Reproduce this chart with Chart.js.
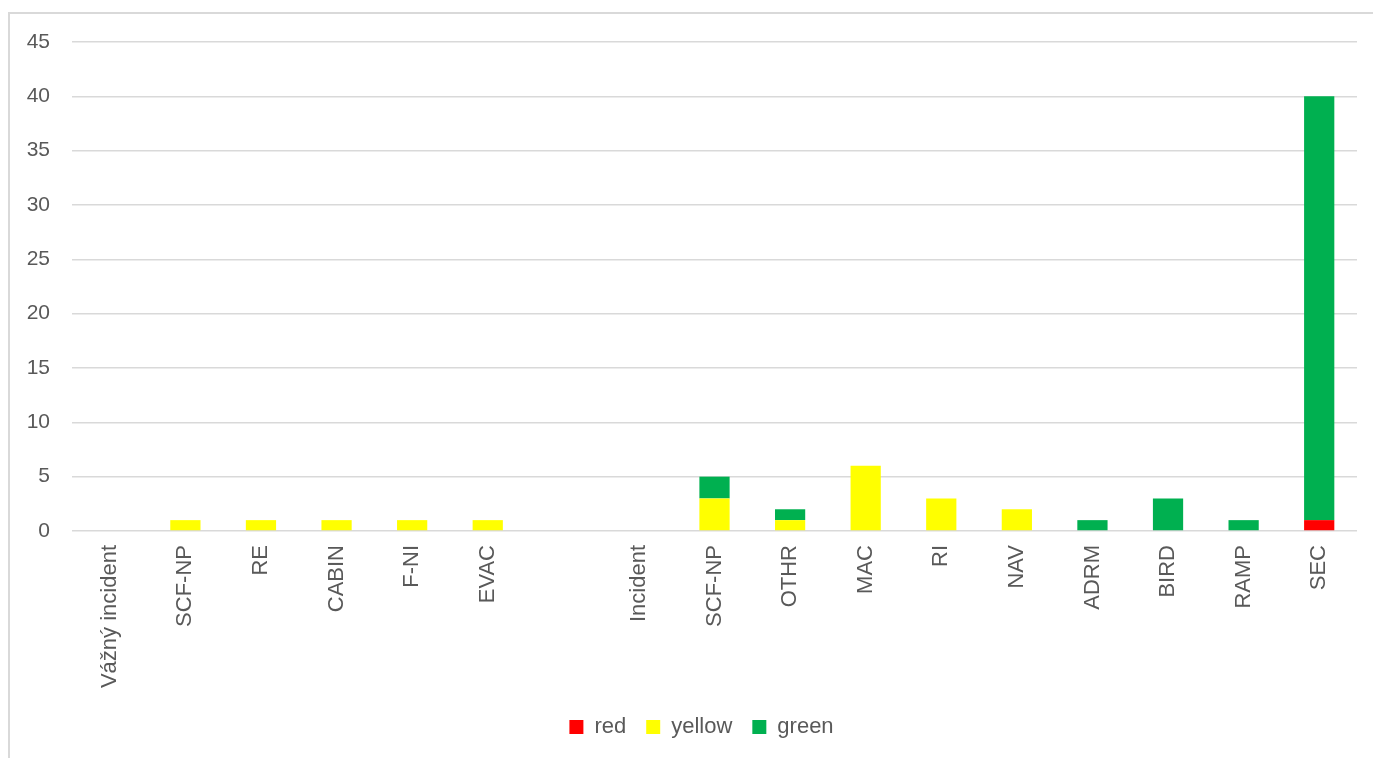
<!DOCTYPE html>
<html>
<head>
<meta charset="utf-8">
<script src="https://cdn.jsdelivr.net/npm/chart.js@4/dist/chart.umd.min.js"></script>
<style>
  html, body { margin: 0; padding: 0; background: #fff; overflow: hidden; }
  #frame {
    position: absolute; left: 8px; top: 12px;
    width: 1400px; height: 800px;
    border: 2px solid #d9d9d9; box-sizing: border-box;
  }
  #wrap { position: absolute; left: 0; top: 0; width: 1373px; height: 758px; }
</style>
</head>
<body>
<div id="frame"></div>
<div id="wrap"><canvas id="chart"></canvas></div>
<script>
// event categories; the blank entry separates the two groups
const categories = ['Vážný incident', 'SCF-NP', 'RE', 'CABIN', 'F-NI', 'EVAC', '',
  'Incident', 'SCF-NP', 'OTHR', 'MAC', 'RI', 'NAV', 'ADRM', 'BIRD', 'RAMP', 'SEC'];
const redValues    = [0, 0, 0, 0, 0, 0, 0, 0, 0, 0, 0, 0, 0, 0, 0, 0, 1];
const yellowValues = [0, 1, 1, 1, 1, 1, 0, 0, 3, 1, 6, 3, 2, 0, 0, 0, 0];
const greenValues  = [0, 0, 0, 0, 0, 0, 0, 0, 2, 1, 0, 0, 0, 1, 3, 1, 39];
const yTicks = [0, 5, 10, 15, 20, 25, 30, 35, 40, 45];

const textColor = '#595959';
const gridColor = '#d9d9d9';
const fontFamily = '"Liberation Sans", Arial, sans-serif';

Chart.defaults.font.family = fontFamily;
Chart.defaults.color = textColor;

// nudge the legend a bit right so it sits under the middle of the frame
const legendShift = {
    id: 'legendShift',
    afterLayout(chart) {
        const lg = chart.legend;
        if (!lg) return;
        lg.left += 23;
        lg.right += 23;
        lg.adjustHitBoxes();
    }
};

new Chart(document.getElementById('chart'), {
    type: 'bar',
    data: {
        labels: categories,
        datasets: [
            { label: 'red', data: redValues, backgroundColor: '#ff0000' },
            { label: 'yellow', data: yellowValues, backgroundColor: '#ffff00' },
            { label: 'green', data: greenValues, backgroundColor: '#00b050' }
        ]
    },
    plugins: [legendShift],
    options: {
        responsive: true,
        maintainAspectRatio: false,
        animation: false,
        datasets: { bar: { barPercentage: 0.4, categoryPercentage: 1.0 } },
        layout: { padding: { left: 0, right: 16, top: 42, bottom: 10 } },
        plugins: {
            tooltip: { enabled: false },
            legend: {
                position: 'bottom',
                labels: {
                    boxWidth: 14,
                    boxHeight: 14,
                    padding: 20,
                    font: { size: 22 },
                    color: textColor
                }
            }
        },
        scales: {
            x: {
                stacked: true,
                grid: { display: false, drawTicks: false },
                border: { display: false },
                ticks: {
                    autoSkip: false,
                    maxRotation: 90,
                    minRotation: 90,
                    padding: 14,
                    font: { size: 22 },
                    color: textColor
                },
                afterFit: function(scale) { scale.height = 165; }
            },
            y: {
                stacked: true,
                min: 0,
                max: 45,
                afterBuildTicks: function(scale) {
                    scale.ticks = yTicks.map(v => ({ value: v }));
                },
                grid: { color: gridColor, lineWidth: 1.5, drawTicks: false },
                border: { display: false },
                ticks: {
                    padding: 22,
                    font: { size: 21 },
                    color: textColor
                },
                afterFit: function(scale) { scale.width = 72; }
            }
        }
    }
});
</script>
</body>
</html>
